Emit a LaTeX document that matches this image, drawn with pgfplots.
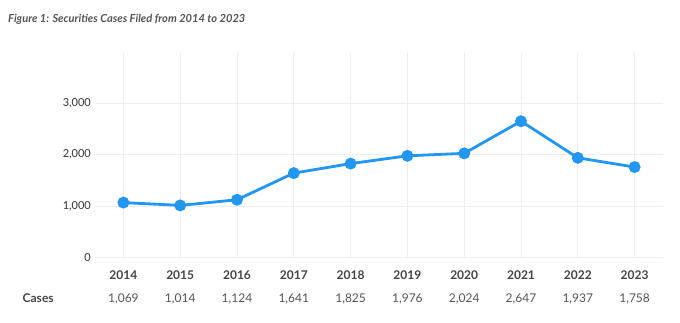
\documentclass[border=0pt]{standalone}
\usepackage{fontspec}
\setmainfont{Lato}
\usepackage{pgfplots}
\pgfplotsset{compat=1.18}
\definecolor{lineblue}{HTML}{2196F3}
\definecolor{gridc}{HTML}{EEEEEE}
\definecolor{titlec}{HTML}{555555}
\definecolor{yearc}{HTML}{444444}
\definecolor{valc}{HTML}{555555}
\definecolor{ytc}{HTML}{333333}
\begin{document}
\begin{tikzpicture}
\path[use as bounding box] (0bp,0bp) rectangle (680bp,-323bp);
\node[anchor=base west, inner sep=0pt, text=titlec, font=\fontsize{11.1bp}{13bp}\selectfont\bfseries\itshape] at (8bp,-22.7bp) {Figure 1: Securities Cases Filed from 2014 to 2023};
\node[anchor=base west, inner sep=0pt, text=yearc, font=\fontsize{12bp}{14bp}\selectfont\bfseries] at (22.5bp,-302.7bp) {Cases};
\begin{axis}[
  at={(95bp,-257.7bp)}, anchor=south west,
  scale only axis, width=568bp, height=204.7bp,
  xmin=2013.5, xmax=2023.5, ymin=0, ymax=3970,
  axis line style={draw=none},
  major tick length=0pt,
  xtick={2014,2015,2016,2017,2018,2019,2020,2021,2022,2023},
  xticklabels={2014,2015,2016,2017,2018,2019,2020,2021,2022,2023},
  ytick={0,1000,2000,3000},
  grid=major,
  major grid style={draw=gridc, line width=0.8bp},
  /pgf/number format/assume math mode=true,
  /pgf/number format/.cd, 1000 sep={,}, /pgfplots/.cd,
  yticklabel style={anchor=east, inner sep=0pt, xshift=-4bp, text=ytc, font=\fontsize{11bp}{13bp}\selectfont},
  xticklabel style={anchor=base, inner sep=0pt, yshift=-21.6bp, text=yearc, font=\fontsize{12bp}{14bp}\selectfont\bfseries},
  extra x ticks={2014,2015,2016,2017,2018,2019,2020,2021,2022,2023},
  extra x tick labels={{1,069},{1,014},{1,124},{1,641},{1,825},{1,976},{2,024},{2,647},{1,937},{1,758}},
  extra x tick style={grid=none, xticklabel style={yshift=-23.4bp, text=valc, font=\fontsize{12bp}{14bp}\selectfont\mdseries}},
  clip=false,
]
\addplot[color=lineblue, line width=2.8bp, mark=*, mark size=4.5bp, mark options={fill=lineblue, draw=none}]
  coordinates {(2014,1069) (2015,1014) (2016,1124) (2017,1641) (2018,1825) (2019,1976) (2020,2024) (2021,2647) (2022,1937) (2023,1758)};
\end{axis}
\end{tikzpicture}
\end{document}
